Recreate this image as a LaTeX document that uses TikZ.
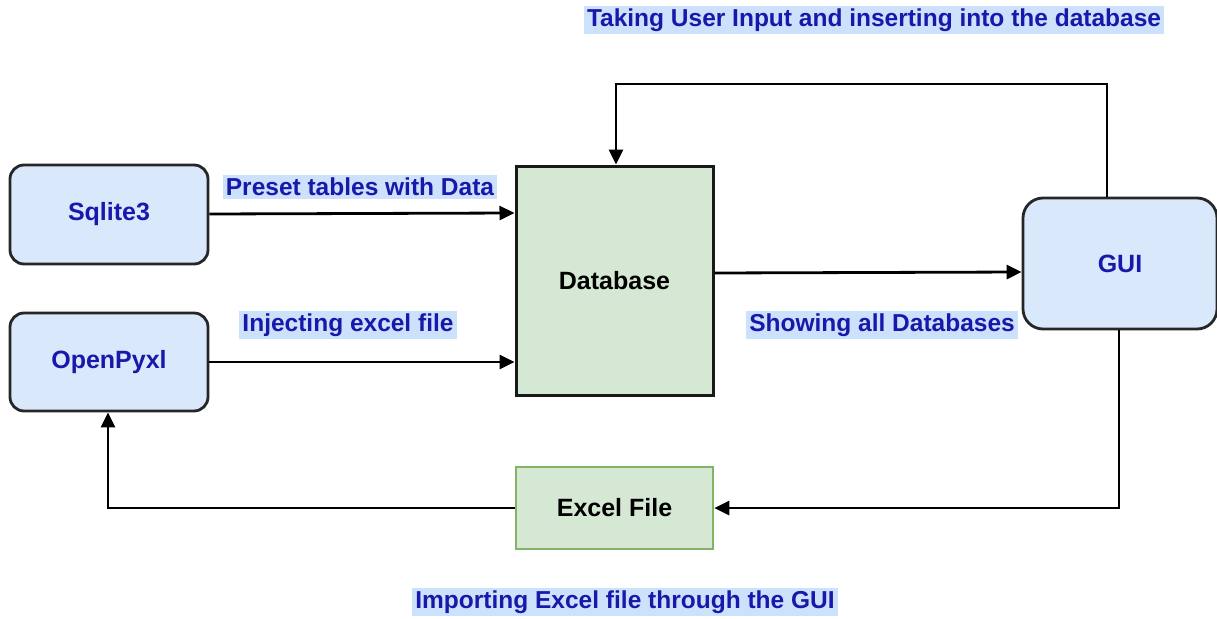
\documentclass[tikz,border=0pt]{standalone}
\usepackage{fontspec}
\setmainfont{Liberation Sans}
\usetikzlibrary{arrows.meta}
\definecolor{boxblue}{RGB}{218,232,252}
\definecolor{boxgreen}{RGB}{213,232,212}
\definecolor{greenedge}{RGB}{130,179,102}
\definecolor{inkblue}{RGB}{24,24,170}
\definecolor{markblue}{RGB}{204,226,252}
\tikzset{
  every node/.style={font=\fontsize{25}{29}\selectfont\bfseries},
  tool/.style={draw=black!85, line width=2.8pt, fill=boxblue, rounded corners=14pt,
    text=inkblue, inner sep=0pt},
  store/.style={draw=black!90, line width=3pt, fill=boxgreen, inner sep=0pt},
  filebox/.style={draw=greenedge, line width=2.6pt, fill=boxgreen, inner sep=0pt},
  flow/.style={line width=2.8pt, -{Triangle[length=15pt,width=14pt]}},
  tag/.style={fill=markblue, text=inkblue, inner xsep=3pt, inner ysep=3pt,
    font=\fontsize{24.5}{28}\selectfont\bfseries}
}
\begin{document}
\begin{tikzpicture}[x=1pt,y=-1pt]
\useasboundingbox (0,0) rectangle (1217,618);
% blocks
\node[tool, minimum width=198pt, minimum height=99pt] (sql) at (109,214.5) {Sqlite3};
\node[tool, minimum width=198pt, minimum height=98pt] (opx) at (109,362) {OpenPyxl};
\node[store, minimum width=197pt, minimum height=229pt] (db) at (614.5,280.5) {Database};
\node[tool, rounded corners=20pt, minimum width=194pt, minimum height=131pt] (gui) at (1120,263.5) {GUI};
\node[filebox, minimum width=197pt, minimum height=82pt] (xl) at (614.5,508) {Excel File};
% corner points of the loops
\coordinate (topR) at (1107,84);
\coordinate (topL) at (616,84);
\coordinate (botR) at (1119,508);
\coordinate (botL) at (108,508);
% connectors
\draw[flow] (sql.east |- 0,214) -- (db.west |- 0,213);
\draw[flow] (opx.east |- 0,362) -- (db.west |- 0,362);
\draw[flow] (db.east |- 0,273) -- (gui.west |- 0,272);
\draw[flow] (gui.north -| topR) -- (topR) -- (topL) -- (db.north -| topL);
\draw[flow] (gui.south -| botR) -- (botR) -- (xl.east);
\draw[flow] (xl.west) -- (botL) -- (opx.south -| botL);
% labels
\node[tag] (l1) at (874,20) {Taking User Input and inserting into the database};
\node[tag] (l2) at (360,187) {Preset tables with Data};
\node[tag] (l3) at (348,325) {Injecting excel file};
\node[tag] (l4) at (882,325) {Showing all Databases};
\node[tag] (l5) at (625,602) {Importing Excel file through the GUI};
\end{tikzpicture}
\end{document}
